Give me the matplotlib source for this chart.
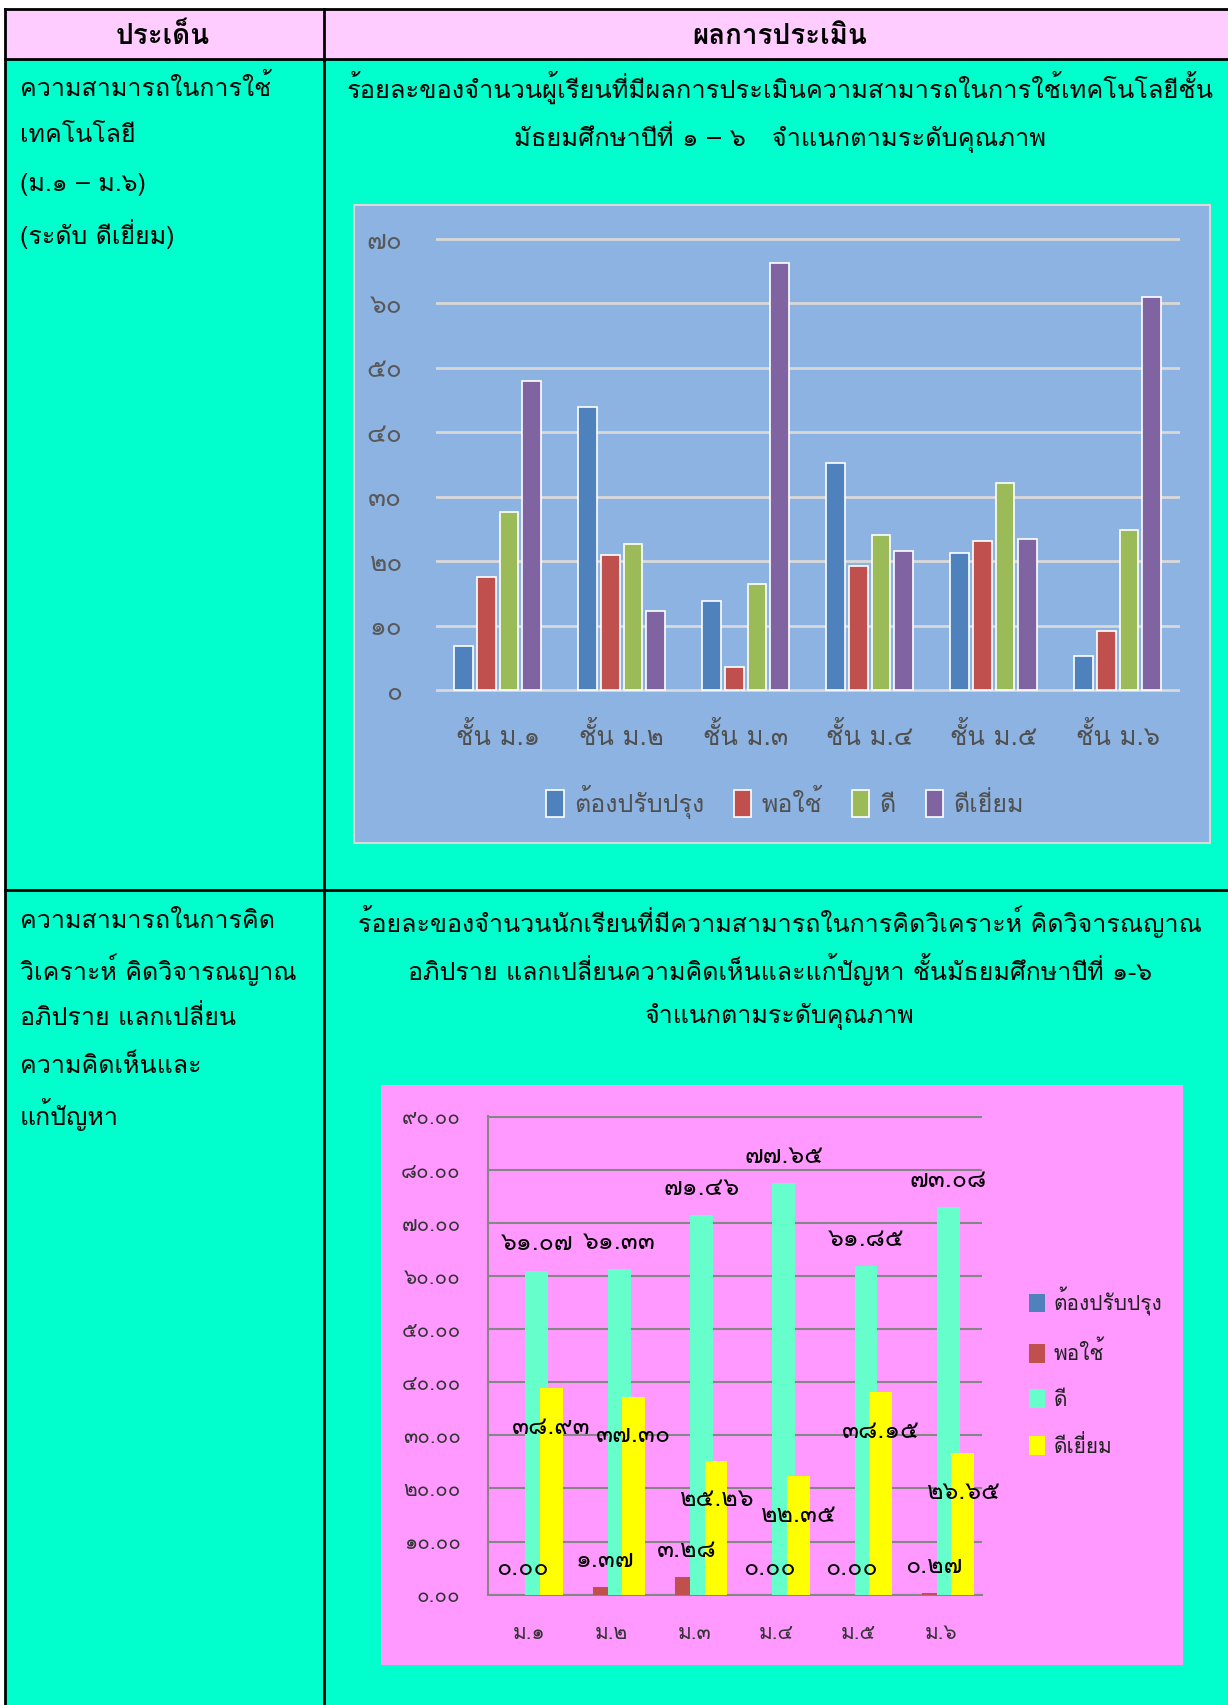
import matplotlib
matplotlib.use('Agg')
import matplotlib.pyplot as plt
from matplotlib import font_manager, ft2font
from matplotlib.patches import Rectangle, Patch
import numpy as np

# ---------------- data ----------------
series_names = ['ต้องปรับปรุง', 'พอใช้', 'ดี', 'ดีเยี่ยม']

# chart 1 : ความสามารถในการใช้เทคโนโลยี
tech_classes = ['ชั้น ม.๑', 'ชั้น ม.๒', 'ชั้น ม.๓', 'ชั้น ม.๔', 'ชั้น ม.๕', 'ชั้น ม.๖']
tech_improve = [6.9, 44.0, 13.8, 35.3, 21.2, 5.2]
tech_fair = [17.5, 20.9, 3.6, 19.2, 23.2, 9.1]
tech_good = [27.6, 22.7, 16.4, 24.1, 32.2, 24.8]
tech_excellent = [48.0, 12.3, 66.2, 21.5, 23.4, 61.0]
tech_yticks = [0, 10, 20, 30, 40, 50, 60, 70]

# chart 2 : ความสามารถในการคิดวิเคราะห์
think_classes = ['ม.๑', 'ม.๒', 'ม.๓', 'ม.๔', 'ม.๕', 'ม.๖']
think_improve = [0.00, 0.00, 0.00, 0.00, 0.00, 0.00]
think_fair = [0.00, 1.37, 3.28, 0.00, 0.00, 0.27]
think_good = [61.07, 61.33, 71.46, 77.65, 61.85, 73.08]
think_excellent = [38.93, 37.30, 25.26, 22.35, 38.15, 26.65]
think_yticks = [0, 10, 20, 30, 40, 50, 60, 70, 80, 90]

# table texts
head_left = 'ประเด็น'
head_right = 'ผลการประเมิน'
row1_left = ['ความสามารถในการใช้', 'เทคโนโลยี', '(ม.๑ – ม.๖)', '(ระดับ ดีเยี่ยม)']
row1_title = ['ร้อยละของจำนวนผู้เรียนที่มีผลการประเมินความสามารถในการใช้เทคโนโลยีชั้น',
              'มัธยมศึกษาปีที่ ๑ – ๖   จำแนกตามระดับคุณภาพ']
row2_left = ['ความสามารถในการคิด', 'วิเคราะห์ คิดวิจารณญาณ', 'อภิปราย แลกเปลี่ยน',
             'ความคิดเห็นและ', 'แก้ปัญหา']
row2_title = ['ร้อยละของจำนวนนักเรียนที่มีความสามารถในการคิดวิเคราะห์ คิดวิจารณญาณ',
              'อภิปราย แลกเปลี่ยนความคิดเห็นและแก้ปัญหา ชั้นมัธยมศึกษาปีที่ ๑-๖',
              'จำแนกตามระดับคุณภาพ']

# ---------------- fonts: look for anything with Thai glyphs ----------------
def thai_fonts():
    found = []
    for f in font_manager.fontManager.ttflist:
        try:
            cmap = ft2font.FT2Font(f.fname).get_charmap()
        except Exception:
            continue
        if 0x0E01 in cmap and 0x0E51 in cmap and f.name not in found:
            found.append(f.name)
    return found

fams = thai_fonts()
plt.rcParams['font.family'] = fams + ['DejaVu Sans']

THAI_DIGITS = str.maketrans('0123456789', '๐๑๒๓๔๕๖๗๘๙')
def thai(s):
    return str(s).translate(THAI_DIGITS)

W, H = 1228, 1705
fig = plt.figure(figsize=(W / 100, H / 100), dpi=100)
fig.patch.set_facecolor('white')

# background axes in pixel coordinates (y down)
bg = fig.add_axes([0, 0, 1, 1])
bg.set_xlim(0, W)
bg.set_ylim(H, 0)
bg.axis('off')

col_x = 324
top_y, head_y, row_y = 9, 59, 890
left_x = 5
bg.add_patch(Rectangle((left_x, top_y), W - left_x, head_y - top_y, facecolor='#FFCCFF', edgecolor='none'))
bg.add_patch(Rectangle((left_x, head_y), W - left_x, H - head_y, facecolor='#00FFCC', edgecolor='none'))
lw = 2.0
bg.plot([left_x, W], [top_y, top_y], color='black', lw=lw)
bg.plot([left_x, W], [head_y, head_y], color='black', lw=lw)
bg.plot([left_x, W], [row_y, row_y], color='black', lw=lw)
bg.plot([left_x, left_x], [top_y, H], color='black', lw=lw)
bg.plot([col_x, col_x], [top_y, H], color='black', lw=lw)

fs_body = 18
bg.text(163, 36, head_left, ha='center', va='center', fontsize=20, fontweight='bold')
bg.text(780, 36, head_right, ha='center', va='center', fontsize=20, fontweight='bold')
for i, s in enumerate(row1_left):
    bg.text(20, 87 + i * 49, s, ha='left', va='center', fontsize=fs_body)
for i, s in enumerate(row1_title):
    bg.text(780, 87 + i * 50, s, ha='center', va='center', fontsize=18.3)
for i, s in enumerate(row2_left):
    bg.text(20, 921 + i * 48.3, s, ha='left', va='center', fontsize=fs_body)
for i, s in enumerate(row2_title):
    bg.text(780, 921 + i * 48, s, ha='center', va='center', fontsize=fs_body)

# chart frames
bg.add_patch(Rectangle((353.5, 204.5), 856, 638.5, facecolor='#8DB3E2', edgecolor='#D9D9D9', lw=1.5))
bg.add_patch(Rectangle((381, 1084.5), 802, 580, facecolor='#FF99FF', edgecolor='none'))


def px_axes(x0, y0, x1, y1):
    return fig.add_axes([x0 / W, 1 - y1 / H, (x1 - x0) / W, (y1 - y0) / H])


# ---------------- chart 1 ----------------
c1_colors = ['#4F81BD', '#C0504D', '#9BBB59', '#8064A2']
ppu1 = (690 - 239) / 70.0
ax1 = px_axes(435.6, 239 - 0.4 * ppu1, 1179.6, 690 + 0.4 * ppu1)
ax1.set_facecolor('none')
x = np.arange(len(tech_classes))
tech_series = [tech_improve, tech_fair, tech_good, tech_excellent]
for i, (vals, c) in enumerate(zip(tech_series, c1_colors)):
    ax1.bar(x + (i - 1.5) * 0.183, vals, width=0.15, color=c, edgecolor='white', lw=1.2, zorder=3)
ax1.set_xlim(-0.5, 5.5)
ax1.set_ylim(-0.4, 70.4)
ax1.set_yticks(tech_yticks)
ax1.set_yticklabels([thai(v) for v in tech_yticks])
ax1.set_xticks(x)
ax1.set_xticklabels(tech_classes)
ax1.tick_params(axis='y', length=0, pad=24, labelsize=19, labelcolor='#595959')
ax1.tick_params(axis='x', length=0, pad=21, labelsize=18.5, labelcolor='#505050')
ax1.yaxis.grid(True, color='#D9D9D9', lw=2)
ax1.set_axisbelow(True)
for sp in ax1.spines.values():
    sp.set_visible(False)

h1 = [Patch(facecolor=c, edgecolor='white', lw=1.2) for c in c1_colors]
leg1 = fig.legend(h1, series_names, loc='center', bbox_to_anchor=(785 / W, 1 - 802 / H),
                  ncol=4, frameon=False, fontsize=18, handlelength=0.7, handleheight=1.3,
                  handletextpad=0.4, columnspacing=1.2)
for t in leg1.get_texts():
    t.set_color('#505050')

# ---------------- chart 2 ----------------
c2_colors = ['#4F81BD', '#C0504D', '#66FFCC', '#FFFF00']
ppu2 = (1594.6 - 1117) / 90.0
ax2 = px_axes(488.4, 1117 - 0.2 * ppu2, 982.2, 1594.6)
ax2.set_facecolor('none')
x2 = np.arange(len(think_classes))
think_series = [think_improve, think_fair, think_good, think_excellent]
for i, (vals, c) in enumerate(zip(think_series, c2_colors)):
    ax2.bar(x2 + (i - 1.5) * 0.177, vals, width=0.278, color=c, zorder=3)
# data labels
lab_fs = 18
for xi, v in zip(x2, think_fair):
    ax2.text(xi - 0.5 * 0.177, v + 5, thai(f'{v:.2f}'), ha='center', va='center', fontsize=lab_fs, zorder=5)
for xi, v in zip(x2, think_good):
    ax2.text(xi + 0.5 * 0.177, v + 5, thai(f'{v:.2f}'), ha='center', va='center', fontsize=lab_fs, zorder=5)
for xi, v in zip(x2, think_excellent):
    ax2.text(xi + 1.5 * 0.177, v - 7.4, thai(f'{v:.2f}'), ha='center', va='center', fontsize=lab_fs, zorder=5)
ax2.set_xlim(-0.5, 5.5)
ax2.set_ylim(0, 90.2)
ax2.set_yticks(think_yticks)
ax2.set_yticklabels([thai(f'{v:.2f}') for v in think_yticks])
ax2.set_xticks(x2)
ax2.set_xticklabels(think_classes)
ax2.tick_params(axis='y', length=0, pad=20, labelsize=15, labelcolor='#333333')
ax2.tick_params(axis='x', length=0, pad=21, labelsize=15, labelcolor='#333333')
ax2.yaxis.grid(True, color='#868686', lw=1.5)
ax2.set_axisbelow(True)
for k in ['top', 'right']:
    ax2.spines[k].set_visible(False)
for k in ['left', 'bottom']:
    ax2.spines[k].set_color('#868686')
    ax2.spines[k].set_linewidth(1.5)

h2 = [Patch(facecolor=c, edgecolor='none') for c in c2_colors]
leg2 = fig.legend(h2, series_names, loc='upper left', bbox_to_anchor=(1010 / W, 1 - 1268 / H),
                  ncol=1, frameon=False, fontsize=15, handlelength=0.8, handleheight=1.0,
                  handletextpad=0.4, labelspacing=1.2)
for t in leg2.get_texts():
    t.set_color('#222222')

fig.savefig('out.png', dpi=100)
